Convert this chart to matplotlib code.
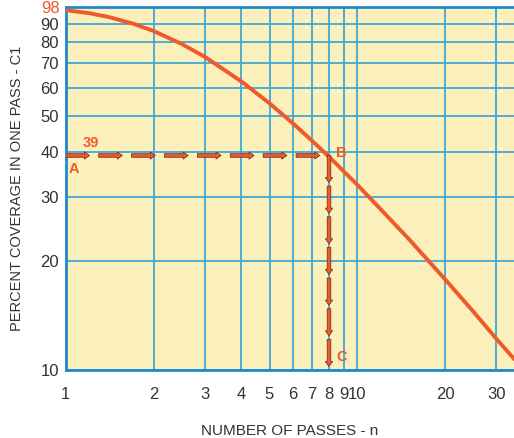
import matplotlib.pyplot as plt
import numpy as np
from matplotlib.patches import FancyArrowPatch

plt.rcParams['font.family'] = ['Liberation Sans', 'DejaVu Sans']

# curve values
passes = [1, 1.2, 1.4, 1.7, 2, 2.5, 3, 4, 5, 6, 7, 8, 10, 12, 15, 20, 25, 30, 35]
coverage = [98, 96.2, 93.9, 90, 85.9, 79.1, 72.9, 62.4, 54.3, 47.9, 42.8, 38.7, 32.4, 27.8, 23, 17.8, 14.5, 12.2, 10.6]

x_ticks = [1, 2, 3, 4, 5, 6, 7, 8, 9, 10, 20, 30]
y_ticks = [10, 20, 30, 40, 50, 60, 70, 80, 90]

point_A = (1, 39)
point_B = (8, 39)
point_C = (8, 10)

bg = '#FBF0BC'
grid_c = '#3FA8D8'
spine_c = '#1F8ACB'
red = '#EE5A2A'
txt = '#333333'

fig = plt.figure(figsize=(5.14, 4.38), dpi=100)
ax = fig.add_axes([0.128, 0.155, 0.872, 0.829])
ax.set_facecolor(bg)
ax.set_xscale('log')
ax.set_yscale('log')
ax.set_xlim(1, 34.5)
ax.set_ylim(10, 100)

for xv in x_ticks:
    ax.axvline(xv, color=grid_c, lw=1.3, zorder=1)
for yv in y_ticks:
    ax.axhline(yv, color=grid_c, lw=1.3, zorder=1)

ax.plot(passes, coverage, color=red, lw=2.8, zorder=3, solid_capstyle='butt')

# dashed arrows A -> B and B -> C, split in log space
def arrow_chain(p0, p1, n, frac):
    lx0, ly0 = np.log10(p0)
    lx1, ly1 = np.log10(p1)
    for i in range(n):
        t0 = i / n
        t1 = (i + frac) / n
        s = (10 ** (lx0 + (lx1 - lx0) * t0), 10 ** (ly0 + (ly1 - ly0) * t0))
        e = (10 ** (lx0 + (lx1 - lx0) * t1), 10 ** (ly0 + (ly1 - ly0) * t1))
        a = FancyArrowPatch(s, e, arrowstyle='simple,head_width=0.65,head_length=0.45,tail_width=0.32',
                            mutation_scale=8, shrinkA=0, shrinkB=0,
                            facecolor=red, edgecolor='#7A3420', lw=0.6, zorder=4)
        ax.add_patch(a)

arrow_chain(point_A, point_B, 8, 0.72)
arrow_chain(point_B, point_C, 7, 0.88)

ax.text(1.14, 40.5, '39', color=red, fontsize=10.5, fontweight='bold', ha='left', va='bottom', zorder=5)
ax.text(1.02, 37.5, 'A', color=red, fontsize=10.5, fontweight='bold', ha='left', va='top', zorder=5)
ax.text(8.45, 39.5, 'B', color=red, fontsize=10.5, fontweight='bold', ha='left', va='center', zorder=5)
ax.text(8.45, 10.9, 'C', color=red, fontsize=10.5, fontweight='bold', ha='left', va='center', zorder=5)

ax.set_xticks(x_ticks)
ax.set_xticklabels([str(v) for v in x_ticks])
ax.set_xticks([], minor=True)
ax.set_yticks(y_ticks)
ax.set_yticklabels([str(v) for v in y_ticks])
ax.set_yticks([], minor=True)
ax.tick_params(axis='both', length=0, labelsize=12, colors=txt)
ax.tick_params(axis='x', pad=12)
ax.tick_params(axis='y', pad=5)

# top value label, sits just above the 90 label
ax.annotate('98', xy=(0, 1), xycoords='axes fraction', xytext=(-4, 4),
            textcoords='offset points', ha='right', va='top', fontsize=12, color=red)

for side in ['left', 'bottom', 'top']:
    ax.spines[side].set_color(spine_c)
    ax.spines[side].set_linewidth(2)
ax.spines['right'].set_visible(False)

ax.set_xlabel('NUMBER OF PASSES - n', fontsize=11, color=txt, labelpad=16)
ax.set_ylabel('PERCENT COVERAGE IN ONE PASS - C1', fontsize=10.5, color=txt, labelpad=12)

fig.savefig('out.png', dpi=100)
